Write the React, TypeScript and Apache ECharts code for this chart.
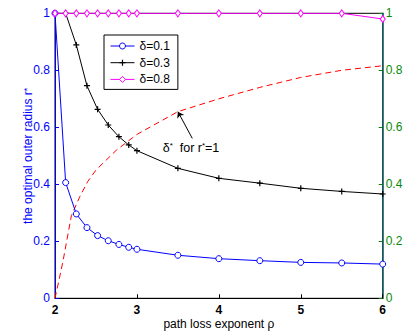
import React, { useEffect, useRef } from 'react';
import * as echarts from 'echarts';

// path loss exponent values (x) for the optimal-radius curves
const rho = [2, 2.13, 2.26, 2.39, 2.52, 2.65, 2.78, 2.9, 3, 3.5, 4, 4.5, 5, 5.5, 6];
const rDelta01 = [1, 0.406, 0.296, 0.248, 0.22, 0.202, 0.189, 0.179, 0.172, 0.151, 0.139, 0.132, 0.126, 0.124, 0.12];
const rDelta03 = [1, 1, 0.889, 0.746, 0.663, 0.608, 0.567, 0.538, 0.518, 0.456, 0.421, 0.404, 0.386, 0.375, 0.366];
const rDelta08 = [1, 1, 1, 1, 1, 1, 1, 1, 1, 1, 1, 1, 1, 1, 0.98];

// delta* for r* = 1 (right axis)
const rhoStar = [2, 2.05, 2.1, 2.2, 2.3, 2.4, 2.5, 2.75, 3, 3.5, 4, 4.5, 5, 5.5, 6];
const deltaStar = [0, 0.065, 0.134, 0.29, 0.355, 0.41, 0.45, 0.52, 0.575, 0.655, 0.7, 0.74, 0.775, 0.8, 0.816];

const seriesNames = ['δ=0.1', 'δ=0.3', 'δ=0.8'];
const arrowFrom = [3.676, 0.561];
const arrowTo = [3.5, 0.655];
const notePos = [3.66, 0.527];

const FONT = '"Liberation Sans", Arial, Helvetica, sans-serif';
const PLUS = 'path://M4 0H6V10H4ZM0 4H10V6H0Z';

const zip = (xs: number[], ys: number[]) => xs.map((x, i) => [x, ys[i]]);

export default function App() {
  const ref = useRef<HTMLDivElement>(null);
  useEffect(() => {
    if (!ref.current) return;
    const chart = echarts.init(ref.current, undefined, { renderer: 'svg' });
    chart.setOption({
      animation: false,
      textStyle: { fontFamily: FONT },
      grid: {
        left: 55,
        right: 21.3,
        top: 13.3,
        bottom: 36.7,
        containLabel: false,
        outerBoundsMode: 'none',
        show: true,
        borderColor: '#000',
        borderWidth: 1,
        backgroundColor: 'transparent',
      },
      legend: {
        data: [
          { name: seriesNames[0], itemStyle: { color: '#fff', borderColor: '#0000ff', borderWidth: 1 }, lineStyle: { color: '#0000ff', width: 1 } },
          { name: seriesNames[1], itemStyle: { color: '#000', borderWidth: 0 }, lineStyle: { color: '#000', width: 1 } },
          { name: seriesNames[2], itemStyle: { color: '#fff', borderColor: '#ff00ff', borderWidth: 1 }, lineStyle: { color: '#ff00ff', width: 1 } },
        ],
        orient: 'vertical',
        left: 104,
        top: 35,
        borderColor: '#000',
        borderWidth: 1,
        borderRadius: 0,
        padding: [5, 8, 4, 6],
        itemGap: 4.7,
        itemWidth: 24,
        itemHeight: 7.5,
        lineStyle: { width: 1 },
        textStyle: { fontSize: 12, color: '#000', fontFamily: FONT },
        selectedMode: false,
      },
      xAxis: {
        type: 'value',
        min: 2,
        max: 6,
        interval: 1,
        axisLine: { show: true, lineStyle: { color: '#000', width: 1 } },
        axisTick: { show: true, inside: true, length: 4, lineStyle: { color: '#000' } },
        axisLabel: { color: '#000', fontSize: 12, fontWeight: 'bold', margin: 5.5 },
        splitLine: { show: false },
        name: 'path loss exponent ρ',
        nameLocation: 'middle',
        nameGap: 19.5,
        nameMoveOverlap: false,
        nameTextStyle: { color: '#000', fontSize: 12, fontFamily: FONT },
      },
      yAxis: [
        {
          type: 'value',
          position: 'left',
          min: 0,
          max: 1,
          interval: 0.2,
          axisLine: { show: true, lineStyle: { color: '#0000ff', width: 1 } },
          axisTick: { show: true, inside: true, length: 4, lineStyle: { color: '#0000ff' } },
          axisLabel: { color: '#0000ff', fontSize: 12, margin: 5 },
          splitLine: { show: false },
          name: '{a|the optimal outer radius r}{s|*}',
          nameLocation: 'middle',
          nameGap: 21,
          nameRotate: 90,
          nameMoveOverlap: false,
          nameTextStyle: {
            color: '#0000ff',
            fontSize: 12,
            rich: {
              a: { color: '#0000ff', fontSize: 12, fontFamily: FONT },
              s: { color: '#0000ff', fontSize: 9, fontFamily: FONT, verticalAlign: 'top' },
            },
          },
        },
        {
          type: 'value',
          position: 'right',
          min: 0,
          max: 1,
          interval: 0.2,
          axisLine: { show: true, lineStyle: { color: '#155f6b', width: 1.5 } },
          axisTick: { show: true, inside: true, length: 4, lineStyle: { color: '#0a800a' } },
          axisLabel: { color: '#0a8a0a', fontSize: 12, margin: 3 },
          splitLine: { show: false },
        },
      ],
      series: [
        {
          name: 'δ=0.1',
          type: 'line',
          data: zip(rho, rDelta01),
          symbol: 'circle',
          symbolSize: 6,
          showAllSymbol: true,
          itemStyle: { color: '#fff', borderColor: '#0000ff', borderWidth: 1 },
          lineStyle: { color: '#0000ff', width: 1 },
          z: 3,
        },
        {
          name: 'δ=0.3',
          type: 'line',
          data: zip(rho, rDelta03),
          symbol: PLUS,
          symbolSize: 6,
          showAllSymbol: true,
          itemStyle: { color: '#000', borderWidth: 0 },
          lineStyle: { color: '#000', width: 1 },
          z: 3,
        },
        {
          name: 'δ=0.8',
          type: 'line',
          data: zip(rho, rDelta08),
          symbol: 'diamond',
          symbolSize: [5, 7],
          showAllSymbol: true,
          itemStyle: { color: '#fff', borderColor: '#ff00ff', borderWidth: 1 },
          lineStyle: { color: '#ff00ff', width: 1 },
          z: 4,
        },
        {
          name: 'δ* for r*=1',
          type: 'line',
          yAxisIndex: 1,
          data: zip(rhoStar, deltaStar),
          symbol: 'none',
          smooth: false,
          lineStyle: { color: '#ff0000', width: 1, type: [6, 4] },
          z: 2,
          markLine: {
            silent: true,
            symbol: ['none', 'arrow'],
            symbolSize: 6,
            lineStyle: { color: '#000', width: 1, type: 'solid' },
            label: { show: false },
            data: [[{ coord: arrowFrom }, { coord: arrowTo }]],
          },
          markPoint: {
            silent: true,
            symbol: 'rect',
            symbolSize: 1,
            itemStyle: { color: 'transparent' },
            label: {
              show: true,
              position: 'inside',
              formatter: '{a|δ}{s|*}{a|  for r}{s|*}{a|=1}',
              rich: {
                a: { color: '#000', fontSize: 12.5, fontFamily: FONT },
                s: { color: '#000', fontSize: 8, fontFamily: FONT, verticalAlign: 'top' },
              },
            },
            data: [{ coord: notePos }],
          },
        },
      ],
    });
    return () => chart.dispose();
  }, []);
  return (
    <div
      ref={ref}
      style={{ position: 'absolute', left: 0, top: 0, width: 404, height: 335, background: '#fff' }}
    />
  );
}
